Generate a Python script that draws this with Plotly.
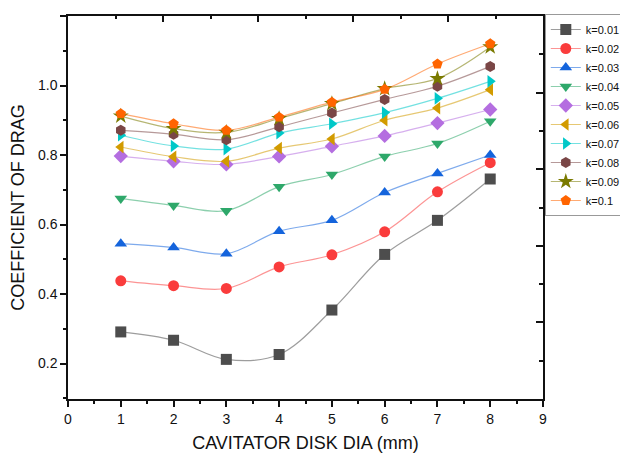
import plotly.graph_objects as go

x_dia = [1, 2, 3, 4, 5, 6, 7, 8]
names = ["k=0.01", "k=0.02", "k=0.03", "k=0.04", "k=0.05",
         "k=0.06", "k=0.07", "k=0.08", "k=0.09", "k=0.1"]
k001 = [0.291, 0.267, 0.212, 0.226, 0.354, 0.514, 0.612, 0.731]
k002 = [0.438, 0.424, 0.416, 0.478, 0.513, 0.579, 0.694, 0.778]
k003 = [0.545, 0.534, 0.516, 0.581, 0.612, 0.692, 0.747, 0.800]
k004 = [0.675, 0.655, 0.640, 0.709, 0.744, 0.796, 0.833, 0.897]
k005 = [0.797, 0.782, 0.773, 0.796, 0.825, 0.855, 0.892, 0.931]
k006 = [0.823, 0.795, 0.782, 0.820, 0.846, 0.900, 0.935, 0.988]
k007 = [0.857, 0.826, 0.817, 0.863, 0.890, 0.922, 0.963, 1.012]
k008 = [0.871, 0.860, 0.844, 0.881, 0.921, 0.960, 0.998, 1.055]
k009 = [0.912, 0.876, 0.865, 0.905, 0.948, 0.991, 1.020, 1.111]
k010 = [0.919, 0.890, 0.871, 0.909, 0.952, 0.989, 1.062, 1.120]
series = [k001, k002, k003, k004, k005, k006, k007, k008, k009, k010]

colors = ["#4d4d4d", "#fa3c3c", "#1464dc", "#2ea86a", "#b46ee0",
          "#d29b00", "#00c8c8", "#7a4646", "#7a7a00", "#ff6400"]
symbols = ["square", "circle", "triangle-up", "triangle-down", "diamond",
           "triangle-left", "triangle-right", "hexagon", "star", "pentagon"]

def lighten(hexc, a=0.55):
    r = int(hexc[1:3], 16); g = int(hexc[3:5], 16); b = int(hexc[5:7], 16)
    return f"rgba({r},{g},{b},{a})"

fig = go.Figure()
for nm, ys, c, s in zip(names, series, colors, symbols):
    fig.add_trace(go.Scatter(
        x=x_dia, y=ys, name=nm, mode="lines+markers",
        line=dict(color=lighten(c), width=1.2, shape="spline", smoothing=1.0),
        marker=dict(symbol=s, size=11 if s != "star" else 12, color=c,
                    line=dict(width=0)),
    ))

FONT = "Liberation Sans, Arial"
axis_font = dict(family=FONT, size=14, color="#111")
# page body has an 8px margin: figure is placed at (8, 8) in the window
W, H = 612, 445
L, T = 60, 8
pw, ph = 474.7, 383.3
R = W - L - pw
B = H - T - ph
fig.update_layout(
    width=W, height=H,
    margin=dict(l=L, r=R, t=T, b=B, autoexpand=False),
    paper_bgcolor="white", plot_bgcolor="white",
    font=dict(family=FONT, color="#111"),
    showlegend=True,
    legend=dict(x=1 + 1.8 / pw, y=1 + 2 / ph, xanchor="left", yanchor="top",
                bordercolor="#999", borderwidth=1, bgcolor="white",
                font=dict(size=11, family=FONT),
                tracegroupgap=0, itemwidth=30),
    xaxis=dict(range=[0, 9], dtick=1, tick0=0, showgrid=False, zeroline=False,
               automargin=False,
               showline=True, linecolor="#111", linewidth=1.5,
               ticks="outside", ticklen=6, tickwidth=1.5, tickcolor="#111",
               minor=dict(ticks="outside", dtick=0.5, ticklen=3, tickwidth=1.5,
                          tickcolor="#111", showgrid=False),
               tickfont=axis_font,
               title=dict(text="CAVITATOR DISK DIA (mm)",
                          font=dict(size=18, family=FONT),
                          standoff=12)),
    yaxis=dict(range=[0.098, 1.2], dtick=0.2, tick0=0.2, showgrid=False,
               zeroline=False, showline=True, linecolor="#111", linewidth=1.5,
               automargin=False,
               ticks="outside", ticklen=6, tickwidth=1.5, tickcolor="#111",
               tickformat=".1f",
               minor=dict(ticks="outside", dtick=0.1, ticklen=3, tickwidth=1.5,
                          tickcolor="#111", showgrid=False),
               tickfont=axis_font,
               title=dict(text="COEFFICIENT OF DRAG",
                          font=dict(size=18, family=FONT),
                          standoff=10)),
    xaxis2=dict(overlaying="x", side="top", anchor="y", range=[0, 5], dtick=1,
                automargin=False,
                showgrid=False, zeroline=False, showline=True, linecolor="#111",
                linewidth=1.5, ticks="inside", ticklen=6, tickwidth=1.5,
                tickcolor="#111", showticklabels=False,
                minor=dict(ticks="inside", dtick=0.5, ticklen=3, tickwidth=1.5,
                           tickcolor="#111", showgrid=False)),
    yaxis2=dict(overlaying="y", side="right", anchor="x", range=[0, 5], dtick=1,
                automargin=False,
                showgrid=False, zeroline=False, showline=True, linecolor="#111",
                linewidth=1.5, ticks="inside", ticklen=7, tickwidth=1.5,
                tickcolor="#111", showticklabels=False,
                minor=dict(ticks="inside", dtick=0.5, ticklen=4, tickwidth=1.5,
                           tickcolor="#111", showgrid=False)),
)
fig.add_trace(go.Scatter(x=[], y=[], xaxis="x2", yaxis="y2", showlegend=False,
                         hoverinfo="skip"))
fig.write_html("out.html")
